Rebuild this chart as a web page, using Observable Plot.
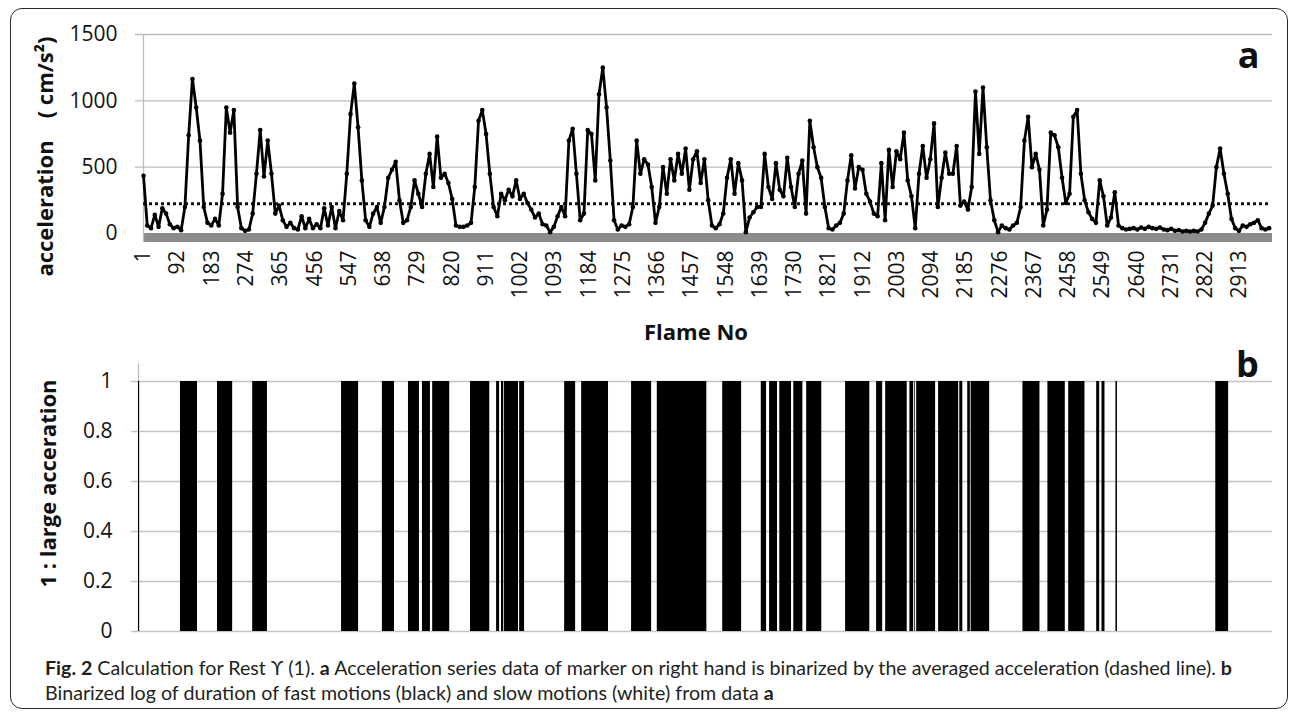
<!DOCTYPE html>
<html>
<head>
<meta charset="utf-8">
<script src="https://cdn.jsdelivr.net/npm/d3@7"></script>
<script src="https://cdn.jsdelivr.net/npm/@observablehq/plot@0.6"></script>
<style>
  body { margin: 0; background: #fff; }
  #page { position: relative; width: 1292px; height: 713px; overflow: hidden; background: #fff; font-family: "Open Sans", sans-serif; }
  #border { position: absolute; left: 10px; top: 8px; width: 1278px; height: 701px; border: 1.6px solid #2a2a2a; border-radius: 12px; box-sizing: border-box; }
  #chartA { position: absolute; left: 0; top: 0; }
  #chartB { position: absolute; left: 0; top: 335px; }
  #caption { position: absolute; left: 45px; top: 655px; font-family: Lato, "Open Sans", sans-serif; font-size: 19px; line-height: 25px; color: #231f20; white-space: nowrap; transform-origin: 0 0; }
  #caption b { font-weight: 700; }
  svg { background: transparent !important; overflow: visible; }
</style>
</head>
<body>
<div id="page">
  <div id="border"></div>
  <div id="chartA"></div>
  <div id="chartB"></div>
  <div id="caption">
    <div id="cap1"><b>Fig. 2</b> Calculation for Rest ϒ (1). <b>a</b> Acceleration series data of marker on right hand is binarized by the averaged acceleration (dashed line). <b>b</b></div>
    <div id="cap2">Binarized log of duration of fast motions (black) and slow motions (white) from data <b>a</b></div>
  </div>
</div>
<script>
// ---------- Panel a: acceleration (cm/s^2), one reading every 10 frames (frames 1, 11, 21, ... 2991)
const frameStep = 10;
const accel = [
  435,60,40,140,50,190,150,70,40,50,
  25,200,740,1165,950,700,200,80,60,110,
  60,300,950,760,930,200,40,20,30,150,
  450,780,430,700,450,150,210,100,50,80,
  40,30,130,40,110,40,70,40,190,60,
  200,40,170,100,450,900,1130,800,400,100,
  50,150,200,80,200,420,480,540,250,80,
  100,200,400,300,200,450,600,350,730,420,
  450,380,260,60,50,50,60,80,350,850,
  930,750,450,200,130,300,250,330,280,400,
  260,300,230,180,120,150,70,60,10,50,
  130,200,130,700,790,450,100,150,780,750,
  400,1050,1250,950,550,100,30,60,50,70,
  200,700,450,560,520,350,80,200,500,300,
  560,400,600,450,640,330,560,620,380,560,
  250,60,40,70,150,420,560,300,530,400,
  10,120,160,200,200,600,350,260,530,330,
  280,570,350,200,450,550,150,850,650,500,
  420,200,40,30,60,80,150,400,590,340,
  500,480,300,240,150,130,530,100,630,350,
  620,560,760,400,280,40,450,660,420,560,
  830,200,420,610,450,450,660,210,240,180,
  350,1070,600,1100,650,250,100,10,60,40,
  30,60,80,200,700,880,500,600,480,60,
  180,760,740,650,420,230,300,880,930,450,
  250,160,110,80,400,280,60,120,310,60,
  40,30,35,40,30,45,35,50,40,35,
  45,30,25,35,20,25,15,20,15,20,
  15,30,80,150,210,500,640,450,300,110,
  40,20,60,50,70,80,100,40,30,40
];
const frames = accel.map((_, i) => 1 + i * frameStep);
const threshold = 225;               // averaged acceleration (dashed line)
const frameCount = 3000;
const accelTicks = [0, 500, 1000, 1500];
const frameTickLabels = [1,92,183,274,365,456,547,638,729,820,911,1002,1093,1184,1275,1366,1457,1548,1639,1730,1821,1912,2003,2094,2185,2276,2367,2458,2549,2640,2731,2822,2913];
const floorDepth = -68;              // grey floor under the series

// ---------- Panel b: binarized intervals (frames) of fast motion
const fastStart = [1,112,210,303,538,646,715,752,779,879,948,961,969,1009,1128,1173,1305,1373,1546,1648,1670,1697,1734,1768,1871,1953,1977,2041,2054,2059,2117,2173,2194,2203,2340,2406,2461,2535,2549,2586,2850];
const fastEnd   = [4,157,250,342,583,678,744,773,824,930,956,967,1006,1022,1157,1244,1358,1504,1596,1662,1691,1728,1758,1808,1935,1969,2034,2051,2056,2109,2170,2181,2201,2252,2385,2452,2504,2543,2557,2590,2884];
const binTicks = [0, 0.2, 0.4, 0.6, 0.8, 1];

const yTitleA = "acceleration\u2003( cm/s\u00B2)";
const xTitleA = "Flame No";
const yTitleB = "1 : large acceration";

const series = accel.map((v, i) => ({frame: frames[i], accel: v}));
const fast = fastStart.map((s, i) => ({start: s, end: fastEnd[i], on: 1}));
const xDomain = [1, frameCount];
const fmt = d => String(d);
const font = {fontFamily: "'Open Sans', sans-serif", fontSize: "21px", color: "#111", background: "transparent", overflow: "visible"};

const chartA = Plot.plot({
  width: 1292, height: 345,
  marginLeft: 143, marginRight: 20, marginTop: 34, marginBottom: 103,
  x: {domain: xDomain},
  y: {domain: [floorDepth, accelTicks[accelTicks.length - 1]]},
  style: font,
  marks: [
    Plot.ruleY(accelTicks.slice(1), {stroke: "#bdbdbd", strokeWidth: 1.3, insetLeft: -8}),
    Plot.rect([xDomain], {x1: d => d[0], x2: d => d[1], y1: floorDepth, y2: 0, fill: "#8c8c8c"}),
    Plot.ruleX([xDomain[0]], {y1: floorDepth, y2: accelTicks[accelTicks.length - 1], stroke: "#bdbdbd", strokeWidth: 1.3}),
    Plot.ruleY([threshold], {x1: frames[0], x2: frames[frames.length - 1], stroke: "#111", strokeWidth: 3, strokeDasharray: "3,3"}),
    Plot.line(series, {x: "frame", y: "accel", stroke: "#000", strokeWidth: 2.8}),
    Plot.dot(series, {x: "frame", y: "accel", r: 2.3, fill: "#000"}),
    Plot.axisY(accelTicks, {tickSize: 0, tickPadding: 26, tickFormat: fmt, label: null}),
    Plot.axisX(frameTickLabels, {tickSize: 0, tickPadding: 8, tickRotate: -90, tickFormat: fmt, label: null}),
    Plot.text([yTitleA], {frameAnchor: "left", textAnchor: "middle", lineAnchor: "middle", rotate: -90, dx: -98, dy: 18, fontWeight: "bold", fontSize: 22}),
    Plot.text([xTitleA], {frameAnchor: "bottom", textAnchor: "middle", lineAnchor: "middle", dx: -12, dy: 90, fontWeight: "bold", fontSize: 22}),
    Plot.text(["a"], {frameAnchor: "top-right", textAnchor: "middle", lineAnchor: "middle", dx: -24, dy: 22, fontWeight: "bold", fontSize: 36})
  ]
});
document.getElementById("chartA").appendChild(chartA);

const chartB = Plot.plot({
  width: 1292, height: 310,
  marginLeft: 138, marginRight: 20, marginTop: 46, marginBottom: 14,
  x: {domain: xDomain, axis: null},
  y: {domain: [0, 1], axis: null},
  style: font,
  marks: [
    Plot.ruleY(binTicks, {stroke: "#c4c4c4", strokeWidth: 1.3, insetLeft: -7}),
    Plot.ruleX([xDomain[0]], {y1: 0, y2: 1.07, stroke: "#bdbdbd", strokeWidth: 1.3}),
    Plot.rect(fast, {x1: "start", x2: "end", y1: 0, y2: "on", fill: "#000"}),
    Plot.axisY(binTicks, {tickSize: 0, tickPadding: 26, tickFormat: fmt, label: null}),
    Plot.text([yTitleB], {frameAnchor: "left", textAnchor: "middle", lineAnchor: "middle", rotate: -90, dx: -90, dy: -23, fontWeight: "bold", fontSize: 22}),
    Plot.text(["b"], {frameAnchor: "top-right", textAnchor: "middle", lineAnchor: "middle", dx: -25, dy: -16, fontWeight: "bold", fontSize: 36})
  ]
});
document.getElementById("chartB").appendChild(chartB);

// fit caption width to the reference (first line spans ~1187px)
const cap = document.getElementById("caption");
const w = document.getElementById("cap1").getBoundingClientRect().width;
if (w > 0) cap.style.transform = `scaleX(${1187 / w})`;
</script>
</body>
</html>
